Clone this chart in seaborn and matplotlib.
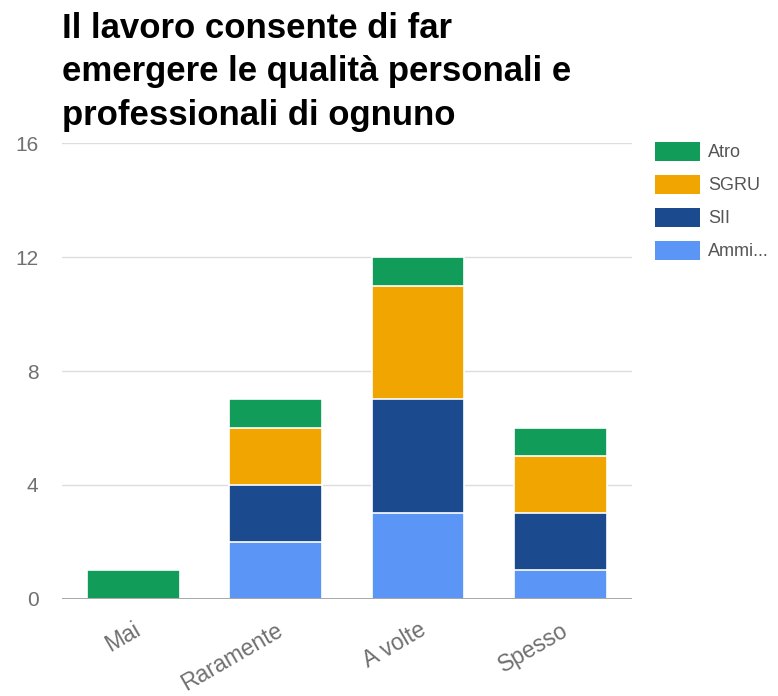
import matplotlib
matplotlib.use("Agg")
import matplotlib.pyplot as plt
from matplotlib.patches import Patch
import numpy as np
import pandas as pd
import seaborn as sns

categories = ["Mai", "Raramente", "A volte", "Spesso"]
ammi = [0, 2, 3, 1]
sii = [0, 2, 4, 2]
sgru = [0, 2, 4, 2]
atro = [1, 1, 1, 1]

series_names = ["Ammi...", "SII", "SGRU", "Atro"]
series_values = [ammi, sii, sgru, atro]
series_colors = ["#5b95f5", "#1c4a8e", "#f0a500", "#119c5a"]

title = "Il lavoro consente di far\nemergere le qualità personali e\nprofessionali di ognuno"
y_ticks = [0, 4, 8, 12, 16]

sns.set_theme(style="white")
plt.rcParams["font.family"] = ["Liberation Sans", "DejaVu Sans"]

fig = plt.figure(figsize=(7.78, 6.96), dpi=100)
ax = fig.add_axes([0.0797, 0.1394, 0.7323, 0.6551])

# Stack by drawing cumulative totals from the top series down
cum = np.cumsum(np.array(series_values), axis=0)
for i in range(len(series_names) - 1, -1, -1):
    df = pd.DataFrame({"cat": categories, "val": cum[i]})
    sns.barplot(data=df, x="cat", y="val", color=series_colors[i],
                width=0.65, edgecolor="white", linewidth=1.2,
                saturation=1, ax=ax, zorder=3)

tick_color = "#707070"
ax.set_xlim(-0.5, 3.5)
ax.set_ylim(0, 16)
ax.set_yticks(y_ticks)
ax.set_yticklabels([str(t) for t in y_ticks], color=tick_color, fontsize=15)
ax.tick_params(axis="y", length=0, pad=17)
ax.tick_params(axis="x", length=0, pad=14)
ax.set_xticks(range(len(categories)))
ax.set_xticklabels(categories, rotation=30, ha="right",
                   rotation_mode="anchor", color=tick_color, fontsize=16.5)
ax.set_xlabel("")
ax.set_ylabel("")

for t in y_ticks[1:]:
    ax.axhline(t, color="#dddddd", linewidth=1, zorder=1)
ax.axhline(0, color="#999999", linewidth=1.2, zorder=4)
for s in ax.spines.values():
    s.set_visible(False)

fig.text(0.0797, 0.983, title, ha="left", va="top", fontsize=25,
         fontweight="bold", color="black", linespacing=1.4)

handles = [Patch(facecolor=series_colors[i], edgecolor="none")
           for i in range(len(series_names) - 1, -1, -1)]
labels = [series_names[i] for i in range(len(series_names) - 1, -1, -1)]
fig.legend(handles, labels, loc="upper left", bbox_to_anchor=(0.8419, 0.796),
           frameon=False, fontsize=13, handlelength=2.49, handleheight=1.22,
           labelspacing=0.75, handletextpad=0.44, borderpad=0,
           borderaxespad=0, labelcolor="#555555")

fig.savefig("out.png", dpi=100)
